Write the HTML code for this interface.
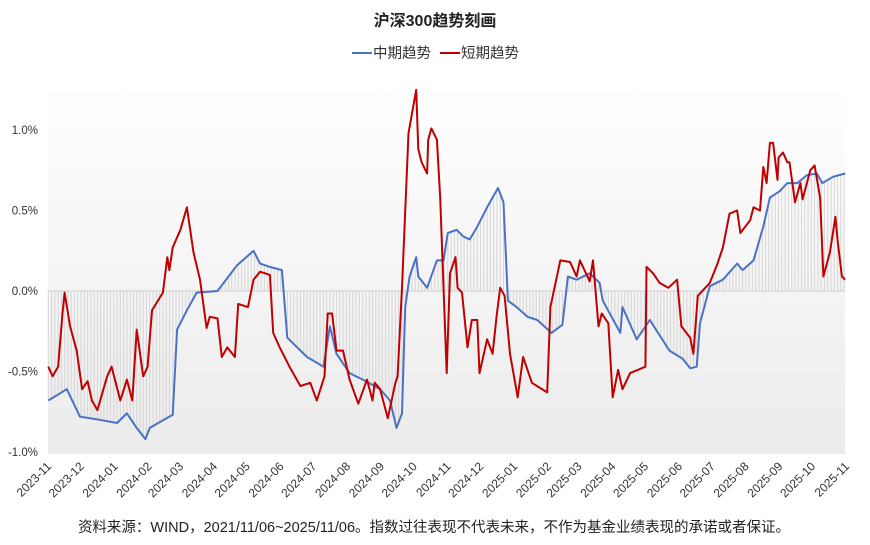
<!DOCTYPE html>
<html><head><meta charset="utf-8">
<style>
html,body{margin:0;padding:0;background:#fff;}
body{width:870px;height:540px;overflow:hidden;font-family:"Liberation Sans","Noto Sans CJK SC",sans-serif;}
</style></head>
<body>
<svg id="chart" width="870" height="540" xmlns="http://www.w3.org/2000/svg">
<defs>
<linearGradient id="bg" x1="0" y1="0" x2="0" y2="1">
<stop offset="0" stop-color="#ffffff"/><stop offset="1" stop-color="#ebebeb"/>
</linearGradient>
</defs>
<rect x="48" y="85" width="797" height="369" fill="url(#bg)"/>
<text x="435" y="26" text-anchor="middle" font-size="16" font-weight="bold" fill="#222">沪深300趋势刻画</text>
<g>
<line x1="352" y1="53" x2="372" y2="53" stroke="#4a72c4" stroke-width="2"/>
<text x="373" y="58" font-size="14.5" fill="#333">中期趋势</text>
<line x1="440" y1="53" x2="460" y2="53" stroke="#c00000" stroke-width="2"/>
<text x="461" y="58" font-size="14.5" fill="#333">短期趋势</text>
</g>
<g id="bars"></g><g id="axes"></g><g id="lines"></g>
<text x="434" y="532" text-anchor="middle" font-size="14.5" fill="#222">资料来源：WIND，2021/11/06~2025/11/06。指数过往表现不代表未来，不作为基金业绩表现的承诺或者保证。</text>
</svg>
<script>
const monthLabels=["2023-11","2023-12","2024-01","2024-02","2024-03","2024-04","2024-05","2024-06","2024-07","2024-08","2024-09","2024-10","2024-11","2024-12","2025-01","2025-02","2025-03","2025-04","2025-05","2025-06","2025-07","2025-08","2025-09","2025-10","2025-11"];
const monthDays=[0,30,61,92,121,152,182,213,243,274,305,335,366,396,427,458,486,517,547,578,608,639,670,700,731];
const yTicks=[1.0,0.5,0.0,-0.5,-1.0];
const yTickLabels=["1.0%","0.5%","0.0%","-0.5%","-1.0%"];
const midDays=[3,20,32,50,66,75,84,92,96,114,117,121,130,139,158,176,191,197,206,217,222,240,255,261,267,279,291,307,316,322,327,330,334,340,342,350,359,365,369,377,383,389,396,405,415,420,424,432,442,451,464,474,479,487,499,508,511,527,529,542,554,572,584,591,597,600,609,621,634,639,649,658,664,673,680,689,698,707,712,722,733];
const midValues=[-0.68,-0.61,-0.78,-0.80,-0.82,-0.76,-0.85,-0.92,-0.85,-0.78,-0.77,-0.24,-0.12,-0.01,0.0,0.16,0.25,0.17,0.15,0.13,-0.29,-0.41,-0.47,-0.22,-0.39,-0.51,-0.55,-0.61,-0.68,-0.85,-0.76,-0.10,0.09,0.21,0.09,0.02,0.19,0.19,0.36,0.38,0.34,0.32,0.40,0.52,0.64,0.55,-0.06,-0.10,-0.16,-0.18,-0.26,-0.21,0.09,0.07,0.11,0.05,-0.06,-0.26,-0.10,-0.30,-0.18,-0.37,-0.42,-0.48,-0.47,-0.20,0.03,0.07,0.17,0.13,0.19,0.40,0.58,0.62,0.67,0.67,0.72,0.73,0.67,0.71,0.73];
const shortDays=[3,7,12,16,18,23,29,34,39,43,48,57,61,69,75,80,84,90,94,98,108,112,114,117,124,130,136,142,148,151,158,162,167,174,177,186,191,197,206,209,215,224,234,243,249,256,259,263,267,273,279,287,295,300,302,307,314,321,323,327,333,340,342,345,350,351,354,359,362,368,371,376,378,382,387,391,396,398,405,410,414,417,421,426,433,438,446,460,463,472,481,487,490,499,502,507,510,516,520,525,529,536,550,551,557,563,571,579,583,591,594,598,609,616,621,627,634,637,646,649,655,658,661,664,667,671,672,676,680,682,687,692,694,701,705,710,713,719,724,726,730,733];
const shortValues=[-0.47,-0.53,-0.47,-0.14,-0.01,-0.22,-0.37,-0.61,-0.56,-0.68,-0.74,-0.53,-0.47,-0.68,-0.55,-0.68,-0.24,-0.53,-0.47,-0.12,-0.01,0.21,0.13,0.27,0.38,0.52,0.24,0.07,-0.23,-0.16,-0.17,-0.41,-0.35,-0.41,-0.08,-0.10,0.07,0.12,0.10,-0.26,-0.35,-0.47,-0.59,-0.57,-0.68,-0.53,-0.14,-0.14,-0.37,-0.37,-0.55,-0.70,-0.55,-0.68,-0.57,-0.61,-0.79,-0.57,-0.53,0.02,0.98,1.25,0.88,0.80,0.73,0.94,1.01,0.94,0.58,-0.51,0.11,0.21,0.02,-0.01,-0.35,-0.18,-0.18,-0.51,-0.30,-0.39,-0.14,0.02,-0.03,-0.39,-0.66,-0.41,-0.57,-0.63,-0.10,0.19,0.18,0.09,0.19,0.06,0.19,-0.22,-0.14,-0.20,-0.66,-0.49,-0.61,-0.51,-0.47,0.15,0.11,0.05,0.02,0.07,-0.22,-0.29,-0.39,-0.03,0.05,0.17,0.27,0.48,0.50,0.36,0.44,0.52,0.50,0.77,0.67,0.92,0.92,0.69,0.83,0.86,0.80,0.80,0.55,0.67,0.57,0.75,0.78,0.58,0.09,0.24,0.46,0.32,0.09,0.07];

const NS="http://www.w3.org/2000/svg";
const X0=45, X1=843, Y0=291, PX=161;
const xScale=d=>X0+(X1-X0)*d/731;
const yScale=v=>Y0-v*PX;
function mk(tag,attrs,parent){const e=document.createElementNS(NS,tag);for(const k in attrs)e.setAttribute(k,attrs[k]);parent.appendChild(e);return e;}
const bars=document.getElementById('bars'),axes=document.getElementById('axes'),lines=document.getElementById('lines');

function interp(ds,vs,d){if(d<=ds[0])return vs[0];for(let i=1;i<ds.length;i++){if(d<=ds[i]){const t=(d-ds[i-1])/(ds[i]-ds[i-1]);return vs[i-1]+t*(vs[i]-vs[i-1]);}}return vs[vs.length-1];}
for(let d=midDays[0];d<=midDays[midDays.length-1];d+=3){
  const v=interp(midDays,midValues,d);
  const b=mk('line',{x1:xScale(d),x2:xScale(d),y1:yScale(0),y2:yScale(v),stroke:'#d6d6d6','stroke-width':1},bars);
  
  
}
const zl=mk('line',{x1:48,x2:845,y1:yScale(0),y2:yScale(0),stroke:'#d0d0d0','stroke-width':1},axes);


yTicks.forEach((t,i)=>{
  const tx=mk('text',{x:38,y:yScale(t)+4,'text-anchor':'end','font-size':11.5,fill:'#333'},axes);
  tx.textContent=yTickLabels[i];
  
  
});
monthLabels.forEach((m,i)=>{
  const x=xScale(monthDays[i])+7;
  const tx=mk('text',{x:x,y:467,'text-anchor':'end','font-size':12,fill:'#333',transform:`rotate(-45 ${x} 467)`},axes);
  tx.textContent=m;
  
  
});
function path(ds,vs){return ds.map((d,i)=>(i?'L':'M')+xScale(d).toFixed(1)+','+yScale(vs[i]).toFixed(1)).join('');}
const mp=mk('path',{d:path(midDays,midValues),fill:'none',stroke:'#4a72c4','stroke-width':2,'stroke-linejoin':'round'},lines);


const sp=mk('path',{d:path(shortDays,shortValues),fill:'none',stroke:'#c00000','stroke-width':2,'stroke-linejoin':'round'},lines);


</script>
</body></html>
